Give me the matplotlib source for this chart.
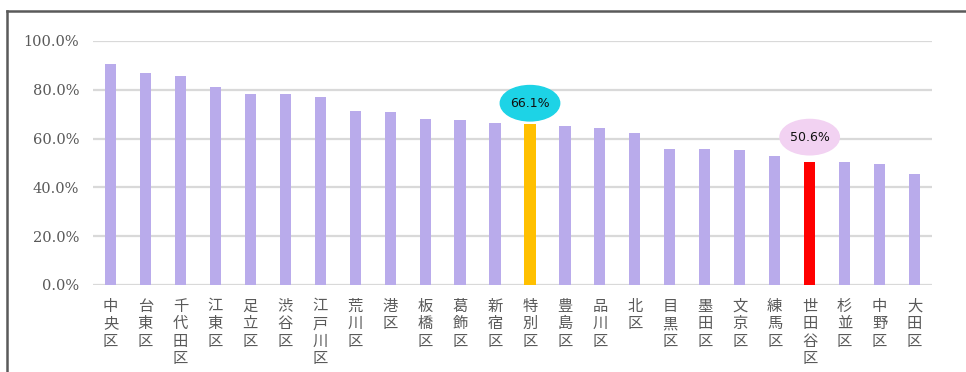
import matplotlib.pyplot as plt
from matplotlib.patches import Ellipse
from matplotlib.lines import Line2D
import numpy as np

plt.rcParams['font.family'] = ['Noto Sans CJK JP', 'DejaVu Sans']

# 区別の割合 (%)
wards = ['中央区', '台東区', '千代田区', '江東区', '足立区', '渋谷区', '江戸川区',
         '荒川区', '港区', '板橋区', '葛飾区', '新宿区', '特別区', '豊島区',
         '品川区', '北区', '目黒区', '墨田区', '文京区', '練馬区', '世田谷区',
         '杉並区', '中野区', '大田区']
values = [90.6, 86.9, 85.8, 81.0, 78.4, 78.3, 77.2,
          71.2, 70.8, 67.9, 67.8, 66.3, 66.1, 65.3,
          64.2, 62.1, 55.7, 55.6, 55.2, 53.0, 50.6,
          50.3, 49.4, 45.5]
# bar colour, bubble colour, bubble offset above bar
highlight = {'特別区': ('#FFC000', '#1DD3E6', 8.4),
             '世田谷区': ('#FF0000', '#F2D2F2', 10.0)}

fig = plt.figure(figsize=(9.66, 3.72), dpi=100)
ax = fig.add_axes([93 / 966, 1 - 285 / 372, 839 / 966, 244 / 372])

x = np.arange(len(wards))
colors = [highlight[w][0] if w in highlight else '#B9ABEB' for w in wards]
ax.bar(x, values, width=0.32, color=colors, zorder=3)

ax.set_xlim(-0.5, len(wards) - 0.5)
ax.set_ylim(0, 100)
ax.set_yticks(np.arange(0, 101, 20))
ax.set_yticklabels([f'{v:.1f}%' for v in np.arange(0, 101, 20)],
                   family='DejaVu Serif', fontsize=10.5, color='#595959')
ax.yaxis.grid(True, color='#D9D9D9', linewidth=1.6, zorder=0)
ax.tick_params(length=0, pad=10)
for s in ax.spines.values():
    s.set_visible(False)
ax.set_xticks(x)
ax.set_xticklabels(['\n'.join(w) for w in wards], fontsize=11, color='#595959',
                   linespacing=1.05, va='top')
ax.tick_params(axis='x', pad=9)

# 吹き出し
for w, (bar_c, bub_c, off) in highlight.items():
    i = wards.index(w)
    v = values[i]
    cy = v + off
    ax.add_patch(Ellipse((i, cy), 1.7, 14.5, color=bub_c, zorder=4, clip_on=False))
    ax.text(i, cy, f'{v:.1f}%', ha='center', va='center', fontsize=9,
            color='#111111', zorder=5, family='Liberation Sans Narrow')

# 外枠
fig.add_artist(Line2D([7 / 966, 1], [1 - 11 / 372] * 2, color='#5A5A5A', lw=1.8,
                      transform=fig.transFigure))
fig.add_artist(Line2D([7 / 966] * 2, [0, 1 - 11 / 372], color='#5A5A5A', lw=1.8,
                      transform=fig.transFigure))

fig.savefig('out.png', dpi=100)
